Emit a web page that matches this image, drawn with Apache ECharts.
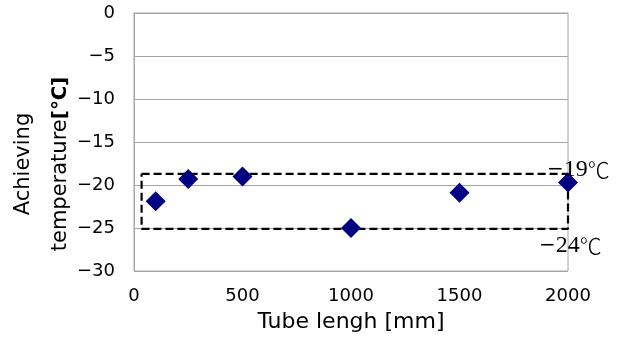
<!DOCTYPE html>
<html><head><meta charset="utf-8">
<script src="https://cdn.jsdelivr.net/npm/echarts@6/dist/echarts.min.js"></script>
<style>html,body{margin:0;padding:0;background:#fff}#c{width:630px;height:338px}</style>
</head><body><div id="c"></div>
<script>
const tubeLength = [100, 250, 500, 1000, 1500, 2000];
const temperature = [-21.9, -19.3, -19.0, -25.0, -20.9, -19.7];
const boxX = [35, 2000, 2000, 35, 35];
const boxY = [-18.7, -18.7, -25.1, -25.1, -18.7];
const xTicks = {min: 0, max: 2000, interval: 500};
const yTicks = {min: -30, max: 0, interval: 5};
const upperLabel = ['\u2212', '19', '\u2103'];
const lowerLabel = ['\u2212', '24', '\u2103'];

const sans = 'DejaVu Sans';
const chart = echarts.init(document.getElementById('c'));
const richLab = {
  m: {fontFamily: 'DejaVu Serif', fontSize: 20, fill: '#000'},
  d: {fontFamily: 'Liberation Serif', fontSize: 24, fill: '#000'},
  c: {fontFamily: 'Noto Sans CJK JP', fontSize: 22, fontWeight: 300, fill: '#000'}
};
const mk = a => '{m|' + a[0] + '}{d|' + a[1] + '}{c|' + a[2] + '}';
chart.setOption({
  animation: false,
  backgroundColor: '#fff',
  grid: {left: 134, right: 62, top: 13, bottom: 67, show: true, borderColor: '#a6a6a6', borderWidth: 1},
  xAxis: {
    type: 'value', min: xTicks.min, max: xTicks.max, interval: xTicks.interval,
    name: 'Tube lengh [mm]', nameLocation: 'middle', nameGap: 40,
    nameTextStyle: {fontFamily: sans, fontSize: 22, color: '#000'},
    axisLine: {show: true, lineStyle: {color: '#a6a6a6'}},
    axisTick: {show: false},
    splitLine: {show: false},
    axisLabel: {fontFamily: sans, fontSize: 18, color: '#000', margin: 16, formatter: v => String(v)}
  },
  yAxis: {
    type: 'value', min: yTicks.min, max: yTicks.max, interval: yTicks.interval,
    axisLine: {show: true, lineStyle: {color: '#a6a6a6'}},
    axisTick: {show: false},
    splitLine: {show: true, lineStyle: {color: '#a6a6a6', width: 1}},
    axisLabel: {fontFamily: sans, fontSize: 18, color: '#000', margin: 19,
      formatter: v => String(v).replace('-', '\u2212')}
  },
  series: [
    {
      type: 'line', data: boxX.map((x, i) => [x, boxY[i]]), symbol: 'none', clip: false,
      lineStyle: {color: '#000', width: 2.2, type: [8, 4]}, z: 3
    },
    {
      type: 'scatter', data: tubeLength.map((x, i) => [x, temperature[i]]),
      symbol: 'diamond', symbolSize: 20, itemStyle: {color: '#000080', opacity: 1}, z: 5
    }
  ],
  graphic: [
    {type: 'text', x: 42, y: 164, rotation: Math.PI / 2,
      style: {text: '{a|Achieving}\n{a|temperature}{b|[\u2103]}', align: 'center', verticalAlign: 'middle',
        rich: {a: {fontFamily: sans, fontSize: 21, fill: '#000', lineHeight: 37},
               b: {fontFamily: sans, fontSize: 20, fontWeight: 'bold', fill: '#000', lineHeight: 37}}}},
    {type: 'text', x: 547, y: 170, z: 10,
      style: {text: mk(upperLabel), align: 'left', verticalAlign: 'middle', rich: richLab}},
    {type: 'text', x: 539, y: 246, z: 10,
      style: {text: mk(lowerLabel), align: 'left', verticalAlign: 'middle', rich: richLab}}
  ]
});
</script></body></html>
